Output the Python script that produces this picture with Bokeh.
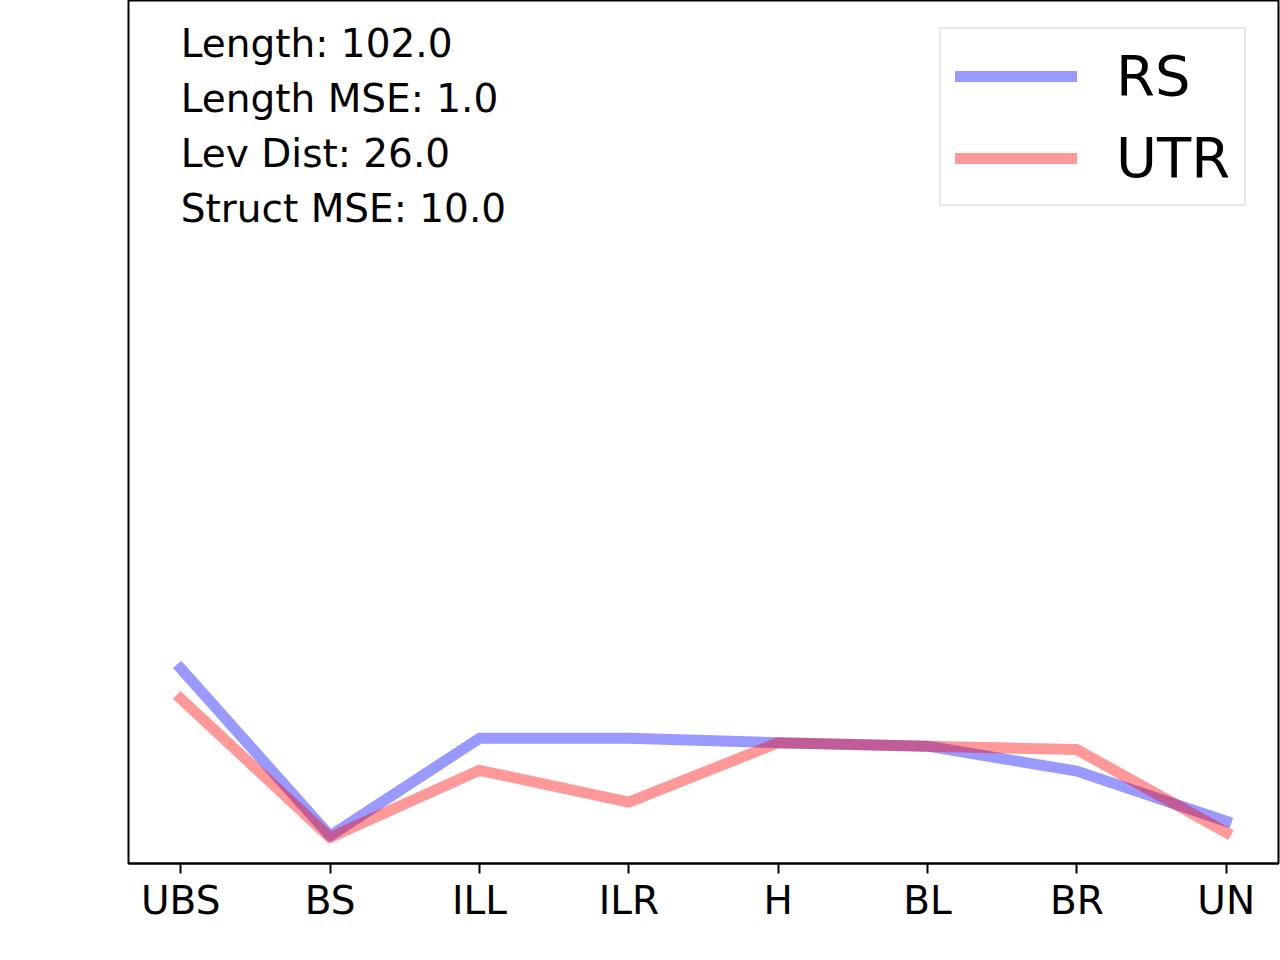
from bokeh.plotting import figure
from bokeh.models import Range1d, FixedTicker, Label, Legend, LegendItem
from bokeh.embed import file_html
from bokeh.resources import INLINE

categories = ["UBS", "BS", "ILL", "ILR", "H", "BL", "BR", "UN"]
rs_values = [0.226, 0.032, 0.145, 0.145, 0.140, 0.136, 0.107, 0.049]
utr_values = [0.191, 0.030, 0.108, 0.071, 0.140, 0.136, 0.132, 0.036]
stats_labels = ["Length: 102.0", "Length MSE: 1.0", "Lev Dist: 26.0", "Struct MSE: 10.0"]

FONT = "DejaVu Sans"
xs = list(range(len(categories)))

p = figure(
    frame_width=1150, frame_height=863,
    min_border_left=128, min_border_right=2, min_border_top=0, min_border_bottom=97,
    x_range=Range1d(-0.35, len(categories) - 1 + 0.35),
    y_range=Range1d(0, 1.0),
    output_backend="svg", toolbar_location=None,
)
p.grid.visible = False
p.yaxis.visible = False
p.outline_line_color = "black"
p.outline_line_width = 2
p.outline_line_alpha = 1.0
p.background_fill_color = "white"
p.border_fill_color = "white"

ax = p.xaxis[0]
ax.ticker = FixedTicker(ticks=xs)
ax.major_label_overrides = {i: c for i, c in enumerate(categories)}
ax.axis_line_width = 2
ax.axis_line_color = "black"
ax.major_tick_line_width = 2
ax.major_tick_line_color = "black"
ax.major_tick_out = 10
ax.major_tick_in = 0
ax.minor_tick_line_color = None
ax.major_label_standoff = 4
ax.major_label_text_font = FONT
ax.major_label_text_font_size = "39px"
ax.major_label_text_color = "black"

r1 = p.line(xs, rs_values, line_color="blue", line_alpha=0.4, line_width=11,
            line_join="round", line_cap="square")
r2 = p.line(xs, utr_values, line_color="red", line_alpha=0.4, line_width=11,
            line_join="round", line_cap="square")

legend = Legend(
    items=[LegendItem(label="RS", renderers=[r1]), LegendItem(label="UTR", renderers=[r2])],
    location=(811, 657),
    label_text_font=FONT, label_text_font_size="56px", label_text_color="black",
    glyph_width=122, glyph_height=52, label_height=52, label_standoff=39,
    spacing=17, padding=14, margin=0,
    border_line_color="#d0d0d0", border_line_width=2.5,
    background_fill_color="white", background_fill_alpha=1.0,
)
p.add_layout(legend)

baselines = [820, 765, 710, 655]
for txt, yb in zip(stats_labels, baselines):
    p.add_layout(Label(x=0, y=yb, x_units="data", y_units="screen", text=txt,
                       text_font=FONT, text_font_size="39px", text_color="black",
                       text_baseline="alphabetic", text_align="left"))

open("out.html", "w").write(file_html(p, INLINE))
